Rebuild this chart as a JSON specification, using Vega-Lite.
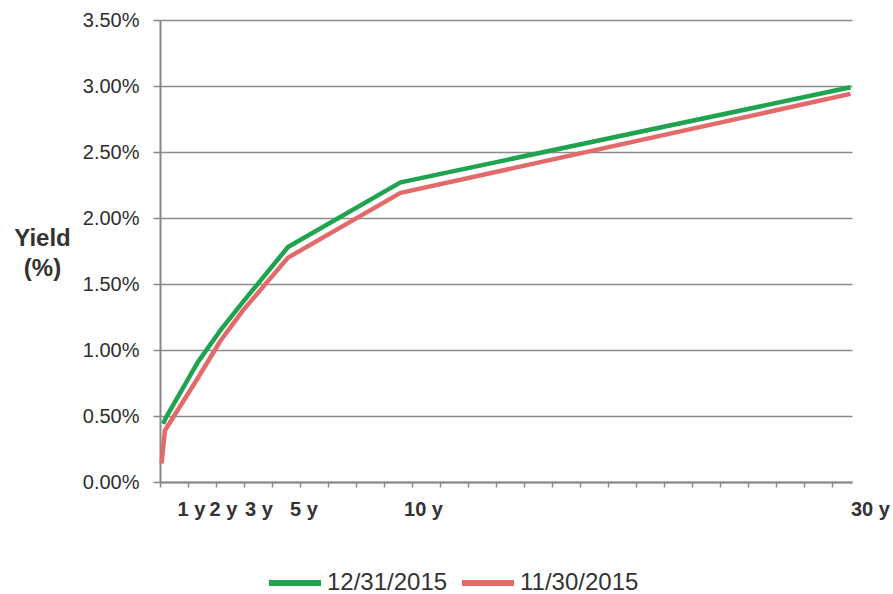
{
  "$schema": "https://vega.github.io/schema/vega-lite/v6.json",
  "width": 692,
  "height": 462,
  "autosize": {"type": "none"},
  "padding": {"left": 160, "top": 20, "right": 41, "bottom": 112},
  "background": "white",
  "config": {"view": {"stroke": null}, "font": "Liberation Sans"},
  "data": {
    "values": [
      {"date": "11/30/2015", "maturity": -0.62, "yield": 0.14},
      {"date": "11/30/2015", "maturity": -0.47, "yield": 0.39},
      {"date": "11/30/2015", "maturity": 1, "yield": 0.79},
      {"date": "11/30/2015", "maturity": 2, "yield": 1.07},
      {"date": "11/30/2015", "maturity": 3, "yield": 1.3},
      {"date": "11/30/2015", "maturity": 5, "yield": 1.7},
      {"date": "11/30/2015", "maturity": 10, "yield": 2.19},
      {"date": "11/30/2015", "maturity": 30, "yield": 2.94},
      {"date": "12/31/2015", "maturity": -0.55, "yield": 0.44},
      {"date": "12/31/2015", "maturity": -0.42, "yield": 0.49},
      {"date": "12/31/2015", "maturity": 1, "yield": 0.91},
      {"date": "12/31/2015", "maturity": 2, "yield": 1.15},
      {"date": "12/31/2015", "maturity": 3, "yield": 1.365},
      {"date": "12/31/2015", "maturity": 5, "yield": 1.78},
      {"date": "12/31/2015", "maturity": 10, "yield": 2.27},
      {"date": "12/31/2015", "maturity": 30, "yield": 2.99}
    ]
  },
  "mark": {"type": "line", "strokeWidth": 4.5, "strokeJoin": "round"},
  "encoding": {
    "x": {
      "field": "maturity",
      "type": "quantitative",
      "scale": {"domain": [-0.689, 30.067], "nice": false, "zero": false},
      "axis": {
        "title": null,
        "grid": false,
        "orient": "bottom",
        "values": [-0.689, 0.5556, 1.8, 3.0444, 4.2889, 5.5333, 6.7778, 8.0222, 9.2667, 10.5111, 11.7556, 13.0, 14.2444, 15.4889, 16.7333, 17.9778, 19.2222, 20.4667, 21.7111, 22.9556, 24.2, 25.4444, 26.6889, 27.9333, 29.1778, 0.69, 2.11, 3.69, 5.69, 11.0, 30.0],
        "labelExpr": "datum.value == 0.69 ? '1 y' : datum.value == 2.11 ? '2 y' : datum.value == 3.69 ? '3 y' : datum.value == 5.69 ? '5 y' : datum.value == 11 ? '10 y' : datum.value == 30 ? '30 y' : ''",
        "tickOpacity": {"condition": {"test": "indexof([0.69, 2.11, 3.69, 5.69, 11, 30], datum.value) >= 0", "value": 0}, "value": 1},
        "labelAlign": {"condition": {"test": "datum.value == 30", "value": "left"}, "value": "center"},
        "labelFlush": false,
        "labelOverlap": false,
        "labelFontSize": 20,
        "labelFontWeight": "bold",
        "labelColor": "#333333",
        "labelPadding": 12,
        "domainColor": "#888888",
        "domainWidth": 2,
        "tickColor": "#888888",
        "tickWidth": 1.5,
        "tickSize": 5
      }
    },
    "y": {
      "field": "yield",
      "type": "quantitative",
      "scale": {"domain": [0, 3.5], "nice": false},
      "axis": {
        "values": [0, 0.5, 1, 1.5, 2, 2.5, 3, 3.5],
        "labelExpr": "format(datum.value, '.2f') + '%'",
        "labelFontSize": 20,
        "labelColor": "#2e2e2e",
        "labelPadding": 14,
        "tickSize": 7,
        "tickColor": "#888888",
        "tickWidth": 1.5,
        "domainColor": "#888888",
        "domainWidth": 2,
        "grid": true,
        "gridColor": "#8c8c8c",
        "gridWidth": 1.5,
        "title": ["Yield", "(%)"],
        "titleAngle": 0,
        "titleFontSize": 24,
        "titleFontWeight": "bold",
        "titleColor": "#333333",
        "titleX": -118,
        "titleY": 218,
        "titleAlign": "center",
        "titleBaseline": "middle",
        "titleLineHeight": 30
      }
    },
    "color": {
      "field": "date",
      "type": "nominal",
      "scale": {"domain": ["12/31/2015", "11/30/2015"], "range": ["#1fa34f", "#e26a6a"]},
      "legend": {
        "title": null,
        "orient": "none",
        "legendX": 106,
        "legendY": 534,
        "direction": "horizontal",
        "symbolType": "stroke",
        "symbolSize": 2704,
        "symbolStrokeWidth": 6,
        "labelFontSize": 24,
        "labelColor": "#333333",
        "labelOffset": 3,
        "columnPadding": 2,
        "padding": 0
      }
    }
  }
}
